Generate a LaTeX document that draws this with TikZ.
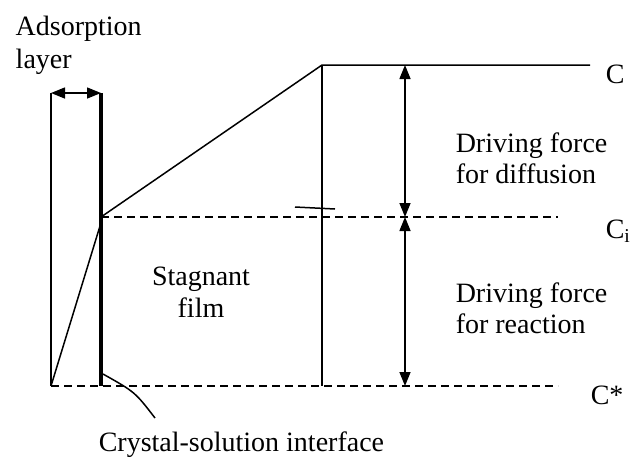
\documentclass[tikz,border=0pt]{standalone}
\usepackage{fontspec}
\setmainfont{Liberation Serif}
\usetikzlibrary{arrows.meta}

\begin{document}
\begin{tikzpicture}[x=1pt,y=-1pt,line width=1.5pt,
  lbl/.style={font=\fontsize{28}{32}\selectfont,inner sep=0pt},
  dashline/.style={dash pattern=on 8pt off 5pt},
  dblarrow/.style={{Triangle[length=14pt,width=11pt]}-{Triangle[length=14pt,width=11pt]}}]
\useasboundingbox (0,0) rectangle (630,459);
% points
\coordinate (lt) at (51,93);
\coordinate (lb) at (51,386);
\coordinate (it) at (101,93);
\coordinate (ib) at (101,386);
\coordinate (ii) at (101,217);
\coordinate (iq) at (100,226);
\coordinate (ft) at (322,65);
\coordinate (fb) at (322,386);
\coordinate (ce) at (590,65);
\coordinate (ci) at (558,217);
\coordinate (cs) at (558,386);
\coordinate (at) at (405,65);
\coordinate (am) at (405,217);
\coordinate (ab) at (405,386);
% layers
\draw (lt) -- (lb);
\draw[line width=4.5pt] (it) -- (ib);
\draw[dblarrow] (lt) -- (it);
\draw (lb) -- (iq);
\draw (ii) -- (ft) -- (ce);
\draw (ft) -- (fb);
\draw[dashline] (ii) -- (ci);
\draw[dashline] (lb) -- (cs);
\draw (295,207) -- (335,209);
% driving forces
\draw[dblarrow] (at) -- (am);
\draw[dblarrow] (am) -- (ab);
% interface pointer
\draw (103,374) .. controls (135,392) .. (155,418);
% labels
\node[lbl,anchor=base west] (ads) at (15,35) {Adsorption};
\node[lbl,anchor=base west] (lay) at (15,68) {layer};
\node[lbl,anchor=base] (stag) at (201,285) {Stagnant};
\node[lbl,anchor=base] (film) at (201,317) {film};
\node[lbl,anchor=base west] (dd1) at (455,152) {Driving force};
\node[lbl,anchor=base west] (dd2) at (455,183) {for diffusion};
\node[lbl,anchor=base west] (dr1) at (455,302) {Driving force};
\node[lbl,anchor=base west] (dr2) at (455,333) {for reaction};
\node[lbl,anchor=base west] (cc) at (605,83) {C};
\node[lbl,anchor=base west] (cci) at (605,238) {C\textsubscript{i}};
\node[lbl,anchor=base west] (ccs) at (590,404) {C*};
\node[lbl,anchor=base west] (csi) at (98,451) {Crystal-solution interface};
\end{tikzpicture}
\end{document}
